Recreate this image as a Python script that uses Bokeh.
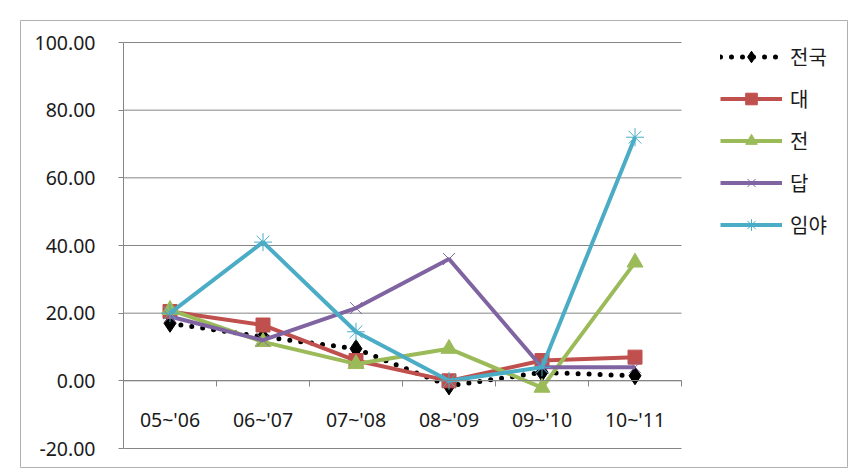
from bokeh.plotting import figure
from bokeh.models import (FixedTicker, NumeralTickFormatter, LinearAxis, Legend, LegendItem,
                          ColumnDataSource, Range1d)
from bokeh.embed import file_html
from bokeh.resources import INLINE

categories = ["05~'06", "06~'07", "07~'08", "08~'09", "09~'10", "10~'11"]
series_names = ["전국", "대", "전", "답", "임야"]
v_national = [17.0, 13.0, 9.5, -1.5, 2.5, 1.5]
v_dae = [20.5, 16.5, 6.0, 0.0, 6.0, 7.0]
v_jeon = [21.0, 11.5, 5.0, 9.5, -2.0, 35.0]
v_dap = [19.0, 12.0, 21.5, 36.0, 4.0, 4.0]
v_imya = [20.0, 41.0, 14.5, 0.0, 4.0, 72.0]
y_ticks = [-20, 0, 20, 40, 60, 80, 100]

n = len(categories)
xs = [i + 0.5 for i in range(n)]
boundaries = [i for i in range(1, n + 1)]

NUM_FONT = "Noto Sans"
KR_FONT = "Noto Sans CJK KR"

# Layout: the plot frame is the chart's outer box; the axes sit inside it.
W, H = 863, 476
box_l, box_t, box_r, box_b = 20, 20, 847, 467      # outer chart box (px)
ax_l, ax_r = 123, 681                               # x pixels of category area
ax_t, ax_b = 42, 448                                # y pixels of 100 and -20
ymin, ymax = y_ticks[0], y_ticks[-1]
ppu_y = (ax_b - ax_t) / (ymax - ymin)
ppu_x = (ax_r - ax_l) / n
y_range = Range1d(ymin - (box_b - ax_b) / ppu_y, ymax + (ax_t - box_t) / ppu_y)
x_range = Range1d(-(ax_l - box_l) / ppu_x, n + (box_r - ax_r) / ppu_x)

p = figure(width=W, height=H, output_backend="svg", toolbar_location=None,
           x_range=x_range, y_range=y_range,
           x_axis_location=None, y_axis_location=None,
           min_border_left=box_l, min_border_right=W - box_r,
           min_border_top=box_t, min_border_bottom=H - box_b)
p.outline_line_color = "#b0b0b0"
p.outline_line_width = 1
p.background_fill_color = "white"
p.border_fill_color = "white"
p.xgrid.visible = False
p.ygrid.visible = False

# horizontal gridlines limited to the category area
p.segment(x0=[0] * len(y_ticks), x1=[n] * len(y_ticks), y0=y_ticks, y1=y_ticks,
          line_color="#868686", line_width=1, level="underlay")

# y axis
yax = LinearAxis(ticker=FixedTicker(ticks=y_ticks), formatter=NumeralTickFormatter(format="0.00"),
                 fixed_location=0, bounds=(ymin, ymax))
yax.axis_line_color = "#868686"
yax.major_tick_line_color = "#868686"
yax.major_tick_in = 0
yax.major_tick_out = 5
yax.minor_tick_line_color = None
yax.major_label_standoff = 23
yax.major_label_text_font = NUM_FONT
yax.major_label_text_font_size = "19.5px"
yax.major_label_text_color = "#1a1a1a"
p.add_layout(yax, "left")

# x axis: tick marks at category boundaries
xax_ticks = LinearAxis(ticker=FixedTicker(ticks=boundaries), fixed_location=0, bounds=(0, n))
xax_ticks.axis_line_color = "#868686"
xax_ticks.major_tick_line_color = "#868686"
xax_ticks.major_tick_in = 0
xax_ticks.major_tick_out = 6
xax_ticks.minor_tick_line_color = None
xax_ticks.major_label_text_alpha = 0
xax_ticks.major_label_text_font_size = "1px"
p.add_layout(xax_ticks, "below")

# x axis: labels at category centres
xax_lab = LinearAxis(ticker=FixedTicker(ticks=xs), fixed_location=0,
                     major_label_overrides={x: c for x, c in zip(xs, categories)})
xax_lab.axis_line_color = None
xax_lab.major_tick_line_color = None
xax_lab.minor_tick_line_color = None
xax_lab.major_label_standoff = 19
xax_lab.major_label_text_font = NUM_FONT
xax_lab.major_label_text_font_size = "19.5px"
xax_lab.major_label_text_color = "#1a1a1a"
p.add_layout(xax_lab, "below")

src = ColumnDataSource(dict(x=xs, nat=v_national, dae=v_dae, jeon=v_jeon, dap=v_dap, imya=v_imya))

items = []
# 전국
l1 = p.line("x", "nat", source=src, line_color="black", line_width=5, line_dash="0 11", line_cap="round")
m1 = p.scatter("x", "nat", source=src, marker="diamond", size=18, fill_color="black", line_color="black")
items.append(LegendItem(label=series_names[0], renderers=[l1, m1]))
# 대
l2 = p.line("x", "dae", source=src, line_color="#C0504D", line_width=4)
m2 = p.scatter("x", "dae", source=src, marker="square", size=14, fill_color="#C0504D", line_color="#C0504D")
items.append(LegendItem(label=series_names[1], renderers=[l2, m2]))
# 전
l3 = p.line("x", "jeon", source=src, line_color="#9BBB59", line_width=4)
m3 = p.scatter("x", "jeon", source=src, marker="triangle", size=16, fill_color="#9BBB59", line_color="#9BBB59")
items.append(LegendItem(label=series_names[2], renderers=[l3, m3]))
# 답
l4 = p.line("x", "dap", source=src, line_color="#8064A2", line_width=4)
m4 = p.scatter("x", "dap", source=src, marker="x", size=17, line_color="#8064A2", line_width=1)
items.append(LegendItem(label=series_names[3], renderers=[l4, m4]))
# 임야
l5 = p.line("x", "imya", source=src, line_color="#4BACC6", line_width=4)
m5 = p.scatter("x", "imya", source=src, marker="asterisk", size=18, line_color="#4BACC6", line_width=1)
items.append(LegendItem(label=series_names[4], renderers=[l5, m5]))

item_h, item_gap = 29, 13
legend_h = len(items) * item_h + (len(items) - 1) * item_gap
legend_top = 56 - item_h / 2
legend = Legend(items=items, location=(720 - box_l, box_b - legend_top - legend_h))
legend.padding = 0
legend.margin = 0
legend.border_line_color = None
legend.background_fill_alpha = 0
legend.glyph_width = 62
legend.glyph_height = item_h
legend.label_height = item_h
legend.spacing = item_gap
legend.label_standoff = 8
legend.label_text_font = KR_FONT
legend.label_text_font_size = "20px"
legend.label_text_color = "#1a1a1a"
p.add_layout(legend, "center")

open("out.html", "w").write(file_html(p, INLINE))
